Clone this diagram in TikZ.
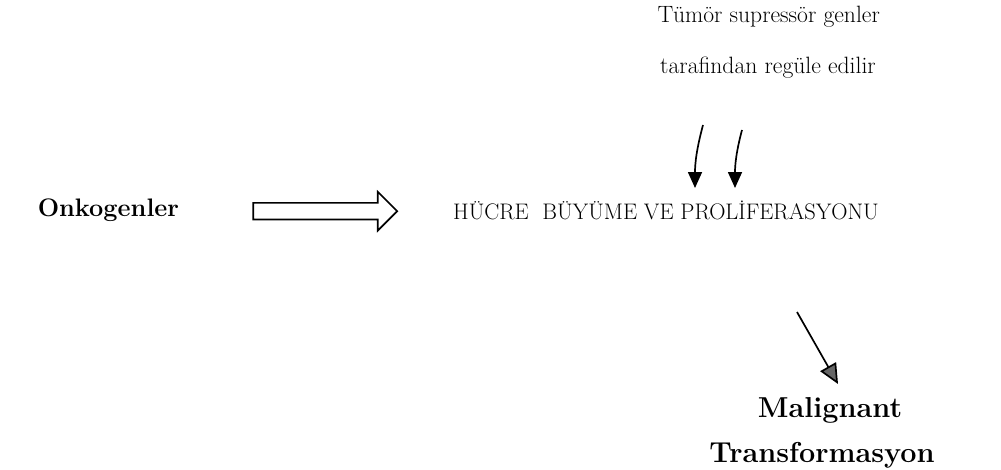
\documentclass[tikz,border=0pt]{standalone}
\usetikzlibrary{arrows.meta,shapes.arrows}
\begin{document}
\begin{tikzpicture}
        \tikzstyle{plain}=[font=\fontsize{16}{19}\selectfont,inner sep=0pt]
        \tikzstyle{heavy}=[font=\fontsize{20.5}{24}\selectfont\bfseries,inner sep=0pt]
        \tikzstyle{edge}=[draw, line width=1.2pt, -{Triangle[length=4mm,width=3.5mm]}]
        \useasboundingbox (0,0) rectangle (25.025,-11.75);
        \begin{scope}
                \node [heavy,font=\fontsize{18}{22}\selectfont\bfseries] (onko) at (2.71,-5.25) {Onkogenler};
                \node [single arrow,draw,line width=1.2pt,minimum height=3.6cm,
                       single arrow head extend=0.275cm,single arrow head indent=0pt,
                       inner sep=0pt] (fat) at (8.025,-5.28) {\rule{0pt}{0.375cm}};
                \node [plain] (hucre) at (16.65,-5.25) {H\"UCRE\ \ B\"UY\"UME VE PROL\.IFERASYONU};
                \node [plain,font=\fontsize{16.8}{20}\selectfont] (tsg1) at (19.22,-0.42) {T\"um\"or supress\"or genler};
                \node [plain,font=\fontsize{16.8}{20}\selectfont] (tsg2) at (19.2,-1.68) {tarafindan reg\"ule edilir};
                \node [heavy] (mal) at (20.75,-10.25) {Malignant};
                \node [heavy] (trans) at (20.55,-11.375) {Transformasyon};
                \coordinate (a1) at (17.575,-3.125);
                \coordinate (a1end) at (17.375,-4.7);
                \coordinate (a2) at (18.55,-3.25);
                \coordinate (a2end) at (18.375,-4.7);
                \coordinate (d1) at (19.925,-7.8);
                \coordinate (d1end) at (20.95,-9.6);
                \path[edge] (a1) to [out=-105,in=90] (a1end);
                \path[edge] (a2) to [out=-105,in=90] (a2end);
                \path[draw,line width=1.2pt,-{Triangle[length=5mm,width=4.5mm,fill=black!60]}] (d1) -- (d1end);
        \end{scope}
\end{tikzpicture}
\end{document}
